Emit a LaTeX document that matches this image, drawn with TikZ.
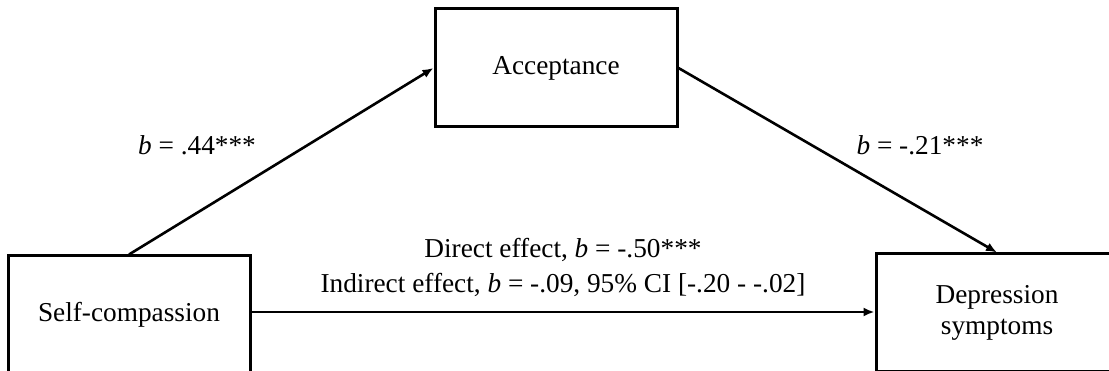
\documentclass[tikz,border=0pt]{standalone}
\usepackage{fontspec}
\setmainfont{Liberation Serif}
\usetikzlibrary{arrows.meta}
\begin{document}
\begin{tikzpicture}[x=1pt,y=-1pt,
  box/.style={draw,line width=3pt,minimum width=242pt,minimum height=118pt,inner sep=0pt,align=center,
    font=\fontsize{27.3}{31.5}\selectfont},
  lbl/.style={anchor=base,inner sep=0pt,font=\fontsize{27.3}{33}\selectfont},
  arr/.style={line width=2.6pt,-{Latex[length=11pt,width=9pt]}}]
\useasboundingbox[fill=white] (0,0) rectangle (1109,371);
\node[box] (acc) at (556,68) {Acceptance};
\node[box] (sc) at (129,315) {Self-compassion};
\node[box] (dep) at (997,313) {Depression\\symptoms};
\draw[arr] (sc.north) -- (acc.west);
\draw[arr] (acc.east) -- (dep.north);
\draw[arr] ([yshift=3pt]sc.east) -- ([yshift=3pt]sc.east -| dep.west);
\node[lbl] (l1) at (197,155) {\textit{b} = .44***};
\node[lbl] (l2) at (920,155) {\textit{b} = -.21***};
\node[lbl] (l3) at (563,258) {Direct effect, \textit{b} = -.50***};
\node[lbl] (l4) at (563,293) {Indirect effect, \textit{b} = -.09, 95\% CI [-.20 - -.02]};
\end{tikzpicture}
\end{document}
